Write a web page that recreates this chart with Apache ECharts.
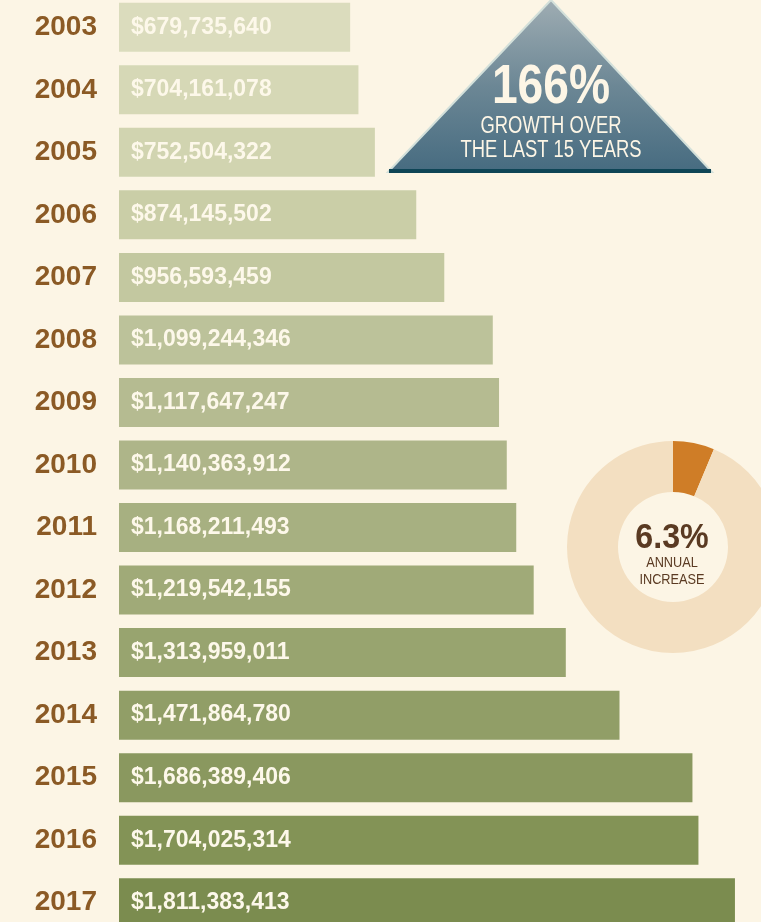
<!DOCTYPE html>
<html>
<head>
<meta charset="utf-8">
<script src="https://cdn.jsdelivr.net/npm/echarts@6/dist/echarts.min.js"></script>
<style>
  html, body { margin: 0; padding: 0; background: #fcf5e5; overflow: hidden; }
  /* the rows run slightly past the top and bottom edges of the page */
  #chart { position: absolute; left: 0; top: -4px; width: 761px; height: 938px; }
</style>
</head>
<body>
<div id="chart"></div>
<script>
// Annual totals by year
const years = ['2003','2004','2005','2006','2007','2008','2009','2010','2011','2012','2013','2014','2015','2016','2017'];
const totals = [679735640, 704161078, 752504322, 874145502, 956593459, 1099244346, 1117647247, 1140363912, 1168211493, 1219542155, 1313959011, 1471864780, 1686389406, 1704025314, 1811383413];

// Headline figures
const growthPct = 166;
const annualIncreasePct = 6.3;

// Bar shades, lightest for the earliest year
const barShades = ['#dbdcbd','#d6d8b6','#d1d4b0','#cacea7','#c3c8a0','#bcc29a','#b5bb91','#aeb589','#a7b081','#a0aa78','#98a46f','#919e67','#8a985f','#839356','#7b8c4f'];

const chart = echarts.init(document.getElementById('chart'), null, { renderer: 'canvas' });

const fmtMoney = v => '$' + v.toLocaleString('en-US');
const cond = "'Liberation Sans', Arial, sans-serif";
const dy = 4; // container offset

const option = {
  backgroundColor: '#fcf5e5',
  animation: false,
  grid: { left: 119, right: 0, top: 0, bottom: 0, containLabel: false },
  xAxis: {
    type: 'value', min: 0, max: 1888e6,
    show: false
  },
  yAxis: {
    type: 'category',
    data: years,
    inverse: true,
    axisLine: { show: false },
    axisTick: { show: false },
    splitLine: { show: false },
    axisLabel: {
      margin: 22,
      color: '#8b5a25',
      fontFamily: cond,
      fontWeight: 'bold',
      fontSize: 28
    }
  },
  series: [
    {
      type: 'bar',
      barWidth: 49,
      data: totals.map((v, i) => ({ value: v, itemStyle: { color: barShades[i] } })),
      label: {
        show: true,
        position: 'insideLeft',
        distance: 12,
        formatter: p => fmtMoney(p.value),
        color: '#fdf8ea',
        fontFamily: cond,
        fontWeight: 'bold',
        fontSize: 23
      },
      z: 2
    },
    {
      type: 'pie',
      center: [673, 547 + dy],
      radius: [55, 106],
      startAngle: 90,
      clockwise: true,
      silent: true,
      label: { show: false },
      labelLine: { show: false },
      data: [
        { value: annualIncreasePct, itemStyle: { color: '#cf7d27' } },
        { value: 100 - annualIncreasePct, itemStyle: { color: '#f3dfc1' } }
      ],
      z: 3
    }
  ],
  graphic: [
    // Growth pyramid
    {
      type: 'polygon',
      z: 10,
      shape: { points: [[551, dy], [712, 172 + dy], [388, 172 + dy]] },
      style: {
        fill: new echarts.graphic.LinearGradient(0, 0, 0, 1, [
          { offset: 0, color: '#9fadb3' },
          { offset: 0.5, color: '#6c8795' },
          { offset: 1, color: '#466b80' }
        ]),
        stroke: '#d3e0da',
        lineWidth: 2
      }
    },
    {
      type: 'rect',
      z: 11,
      shape: { x: 389, y: 169 + dy, width: 322, height: 4 },
      style: { fill: '#0e4556' }
    },
    {
      type: 'text', z: 12, x: 551, y: 88 + dy, scaleX: 0.84,
      style: {
        text: growthPct + '%', align: 'center', verticalAlign: 'middle',
        fill: '#fdf6e6', font: "bold 55px " + cond
      }
    },
    {
      type: 'text', z: 12, x: 551, y: 127 + dy, scaleX: 0.8,
      style: {
        text: 'GROWTH OVER', align: 'center', verticalAlign: 'middle',
        fill: '#fdf6e6', font: "23px " + cond
      }
    },
    {
      type: 'text', z: 12, x: 551, y: 151 + dy, scaleX: 0.8,
      style: {
        text: 'THE LAST 15 YEARS', align: 'center', verticalAlign: 'middle',
        fill: '#fdf6e6', font: "23px " + cond
      }
    },
    // Donut centre text
    {
      type: 'text', z: 12, x: 672, y: 538 + dy, scaleX: 0.92,
      style: {
        text: annualIncreasePct + '%', align: 'center', verticalAlign: 'middle',
        fill: '#5a3a22', font: "bold 35px " + cond
      }
    },
    {
      type: 'text', z: 12, x: 672, y: 563 + dy, scaleX: 0.85,
      style: {
        text: 'ANNUAL', align: 'center', verticalAlign: 'middle',
        fill: '#5a3a22', font: "15px " + cond
      }
    },
    {
      type: 'text', z: 12, x: 672, y: 580 + dy, scaleX: 0.85,
      style: {
        text: 'INCREASE', align: 'center', verticalAlign: 'middle',
        fill: '#5a3a22', font: "15px " + cond
      }
    }
  ]
};

chart.setOption(option);
</script>
</body>
</html>
